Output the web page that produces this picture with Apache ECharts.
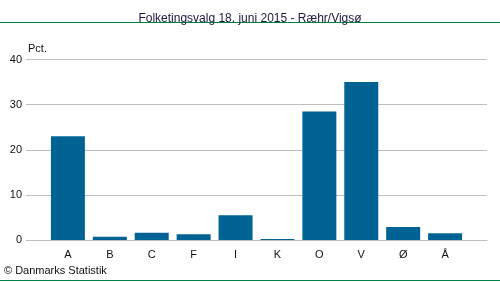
<!DOCTYPE html>
<html><head><meta charset="utf-8">
<script src="https://cdn.jsdelivr.net/npm/echarts@6/dist/echarts.min.js"></script>
<style>html,body{margin:0;padding:0;background:#fff}#c{width:500px;height:282px}</style>
</head><body><div id="c"></div>
<script>
const categories = ['A','B','C','F','I','K','O','V','Ø','Å'];
const values = [23.0, 0.7, 1.6, 1.3, 5.5, 0.2, 28.5, 35.0, 2.9, 1.5];
const yTicks = [0, 10, 20, 30, 40];

const padCats = [''].concat(categories, ['']);
const padVals = [null].concat(values, [null]);
const font = 'Liberation Sans, Arial, sans-serif';

const chart = echarts.init(document.getElementById('c'));
chart.setOption({
  animation: false,
  title: {
    text: 'Folketingsvalg 18. juni 2015 - Ræhr/Vigsø',
    left: 'center', top: 8,
    textStyle: {fontFamily: font, fontSize: 12, fontWeight: 'normal', color: '#1a1a40'}
  },
  graphic: [
    {type: 'rect', shape: {x: 0, y: 22, width: 500, height: 1}, style: {fill: '#00803f'}},
    {type: 'rect', shape: {x: 0, y: 280, width: 500, height: 1}, style: {fill: '#00803f'}},
    {type: 'text', left: 4, top: 265, style: {text: '© Danmarks Statistik', font: '11px ' + font, fill: '#111'}}
  ],
  grid: {left: 26, right: 13, top: 59.5, bottom: 42, containLabel: false},
  xAxis: {
    type: 'category', data: padCats, boundaryGap: false,
    axisLine: {lineStyle: {color: '#bdbdc4', width: 1}},
    axisTick: {show: false},
    axisLabel: {color: '#111', fontFamily: font, fontSize: 11, margin: 9, interval: 0}
  },
  yAxis: {
    type: 'value', min: yTicks[0], max: yTicks[yTicks.length - 1], interval: 10,
    name: 'Pct.', nameLocation: 'end', nameGap: 5,
    nameTextStyle: {color: '#111', fontFamily: font, fontSize: 11, align: 'left', padding: [0, 0, 0, 2]},
    axisLine: {show: false}, axisTick: {show: false},
    axisLabel: {color: '#111', fontFamily: font, fontSize: 11, margin: 4},
    splitLine: {lineStyle: {color: '#bdbdc4', width: 1}}
  },
  series: [{
    type: 'bar', data: padVals, barWidth: 34,
    itemStyle: {color: '#006394'}
  }]
});
</script></body></html>
